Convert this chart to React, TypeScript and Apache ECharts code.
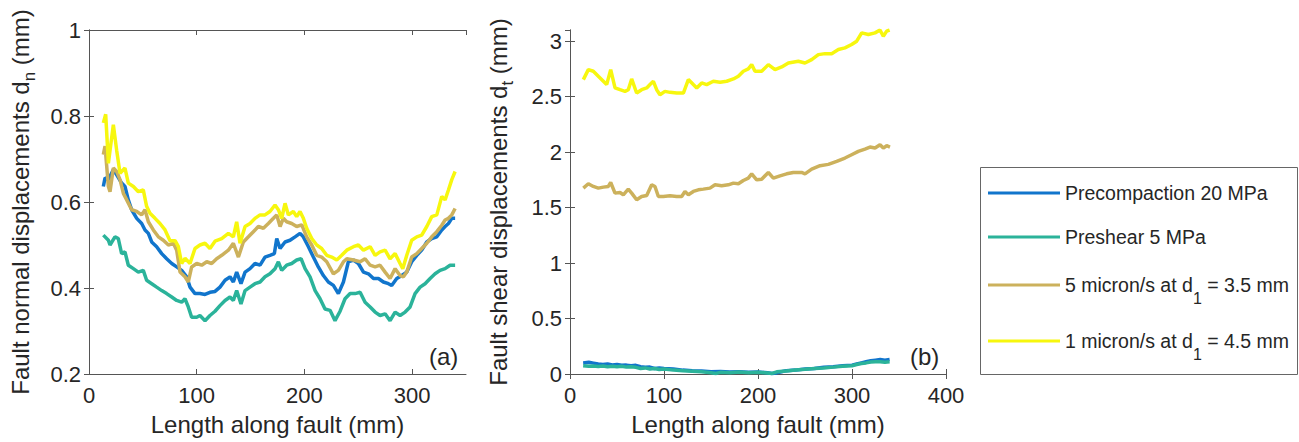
import React, { useEffect, useRef } from 'react';
import * as echarts from 'echarts';

// ---------- DATA ----------
const seriesNames = [
  'Precompaction 20 MPa',
  'Preshear 5 MPa',
  '5 micron/s at d1 = 3.5 mm',
  '1 micron/s at d1 = 4.5 mm',
];
const seriesColors = ['#1175CC', '#2BB39A', '#CCB15C', '#F7F70E'];

const xTicksA = [0, 100, 200, 300];
const yTicksA = [0.2, 0.4, 0.6, 0.8, 1];
const xTicksB = [0, 100, 200, 300, 400];
const yTicksB = [0, 0.5, 1, 1.5, 2, 2.5, 3];

// (a) Fault normal displacements dn (mm)
const dnPrecompaction = [[13.3,0.636],[14.9,0.656],[18,0.652],[22.6,0.675],[25.7,0.663],[30.3,0.644],[33.4,0.636],[36.5,0.605],[39.6,0.582],[44.3,0.562],[48.9,0.55],[52,0.535],[55.1,0.527],[58.2,0.507],[62.8,0.496],[67.5,0.48],[72.1,0.468],[76.8,0.457],[81.4,0.449],[86,0.441],[90.7,0.426],[93.8,0.402],[98.4,0.387],[103,0.387],[107.7,0.385],[112.3,0.39],[117,0.392],[121.6,0.402],[126.3,0.418],[130.9,0.426],[134,0.414],[137.1,0.437],[141.1,0.41],[144.9,0.437],[149.5,0.445],[154.1,0.457],[158.8,0.453],[163.4,0.472],[168,0.476],[172.1,0.48],[174.3,0.515],[177.4,0.492],[182,0.507],[186.6,0.511],[191.3,0.519],[195.9,0.527],[199,0.519],[203.7,0.496],[208.3,0.472],[212.9,0.449],[217.6,0.429],[222.2,0.414],[226.9,0.406],[231.5,0.387],[236.2,0.414],[240.8,0.461],[245.5,0.465],[250.1,0.457],[254.8,0.437],[259.4,0.433],[264.1,0.422],[268.7,0.422],[273.3,0.414],[278,0.41],[281,0.406],[285.7,0.422],[290.4,0.429],[295,0.437],[299.6,0.461],[304.3,0.476],[308.9,0.488],[313.6,0.507],[318.2,0.515],[322.9,0.519],[327.5,0.535],[330.6,0.543],[333.7,0.55],[336.8,0.562],[339.9,0.562]];
const dnPreshear = [[13.3,0.523],[18,0.511],[19.5,0.5],[24.1,0.519],[27.2,0.515],[30.3,0.48],[33.4,0.484],[36.5,0.453],[41.2,0.445],[45.8,0.437],[50.4,0.441],[53.5,0.418],[58.2,0.41],[62.8,0.402],[67.5,0.394],[72.1,0.387],[76.8,0.379],[81.4,0.371],[86,0.367],[89.1,0.375],[92.2,0.356],[95.3,0.332],[100,0.332],[103,0.336],[107.7,0.324],[112.3,0.336],[117,0.346],[121.6,0.359],[126.3,0.371],[130.9,0.379],[134,0.371],[137.1,0.394],[141.1,0.363],[144.9,0.394],[149.5,0.402],[154.1,0.41],[158.8,0.414],[163.4,0.426],[168,0.433],[172.7,0.445],[175.8,0.461],[178.9,0.441],[183.5,0.453],[188.2,0.457],[192.8,0.465],[196.9,0.468],[200.6,0.445],[205.2,0.426],[209.9,0.394],[214.5,0.375],[219.1,0.351],[223.8,0.348],[228.4,0.324],[233.1,0.346],[237.7,0.375],[242.4,0.387],[247,0.387],[251.7,0.39],[256.3,0.367],[261,0.356],[265.6,0.344],[270.2,0.336],[274.9,0.34],[279.5,0.324],[284.2,0.344],[288.8,0.336],[293.5,0.344],[298.1,0.356],[302.7,0.387],[307.4,0.402],[312,0.41],[316.7,0.422],[321.3,0.433],[325.9,0.441],[330.6,0.445],[335.2,0.453],[339.9,0.453]];
const dn5um = [[13.3,0.71],[14.9,0.73],[18,0.636],[19.5,0.624],[22.6,0.679],[25.7,0.671],[28.8,0.652],[31.9,0.62],[35,0.605],[39.6,0.582],[44.3,0.578],[48.9,0.57],[52,0.582],[55.1,0.554],[59.7,0.535],[64.4,0.519],[69,0.511],[73.7,0.5],[78.3,0.504],[81.4,0.488],[84.5,0.437],[89.1,0.426],[92.2,0.414],[95.3,0.449],[100,0.457],[104.6,0.453],[109.3,0.461],[113.9,0.457],[118.5,0.468],[123.2,0.476],[129.4,0.488],[134,0.504],[138.7,0.472],[143.3,0.507],[148,0.519],[152.6,0.531],[157.2,0.543],[161.9,0.539],[166.5,0.55],[171.2,0.562],[174.3,0.57],[177.4,0.543],[180.4,0.562],[183.5,0.554],[188.2,0.55],[192.8,0.543],[197.5,0.547],[202.1,0.519],[206.8,0.5],[211.4,0.476],[216,0.472],[220.7,0.461],[226.9,0.433],[231.5,0.441],[236.2,0.461],[239.3,0.468],[245.5,0.465],[251.7,0.461],[256.3,0.468],[261,0.453],[265.6,0.449],[270.2,0.453],[274.9,0.437],[279.5,0.422],[284.2,0.445],[288.8,0.429],[291.9,0.426],[295,0.437],[299.6,0.472],[304.3,0.48],[308.9,0.492],[313.6,0.504],[318.2,0.519],[322.9,0.531],[327.5,0.546],[330.6,0.558],[333.7,0.562],[336.8,0.57],[339.9,0.585]];
const dn1um = [[13.3,0.784],[15.5,0.804],[18,0.69],[22.6,0.78],[25.7,0.72],[28.8,0.667],[33.4,0.679],[36.5,0.644],[41.2,0.636],[45.8,0.624],[50.4,0.628],[53.5,0.59],[56.6,0.574],[61.3,0.562],[65.9,0.55],[70.6,0.535],[75.2,0.51],[79.9,0.51],[83,0.496],[86,0.457],[89.1,0.469],[93.8,0.457],[98.4,0.492],[103,0.5],[107.7,0.504],[112.3,0.492],[117,0.509],[123.2,0.515],[129.4,0.527],[134,0.519],[137.1,0.554],[140.2,0.504],[144.9,0.543],[149.5,0.55],[154.1,0.562],[158.8,0.57],[163.4,0.57],[168,0.578],[172.7,0.593],[175.8,0.582],[178.9,0.562],[182,0.597],[185.1,0.57],[189.7,0.578],[192.8,0.566],[195.9,0.578],[199,0.562],[202.1,0.539],[206.8,0.515],[211.4,0.5],[216,0.492],[220.7,0.476],[225.3,0.472],[230,0.465],[234.6,0.476],[239.3,0.488],[245.5,0.496],[250.1,0.5],[254.8,0.488],[261,0.496],[265.6,0.476],[270.2,0.484],[274.9,0.488],[279.5,0.468],[284.2,0.48],[288.8,0.457],[291.3,0.445],[295,0.476],[299.6,0.511],[304.3,0.519],[308.9,0.523],[313.6,0.543],[318.2,0.566],[322.9,0.57],[327.5,0.613],[330.6,0.605],[333.7,0.628],[336.8,0.652],[339.9,0.671]];

// (b) Fault shear displacements dt (mm)
const dtPrecompaction = [[14,0.1],[20,0.105],[25,0.098],[30,0.09],[35,0.085],[40,0.09],[45,0.082],[50,0.085],[55,0.078],[60,0.08],[65,0.075],[70,0.078],[75,0.065],[80,0.06],[85,0.062],[90,0.05],[95,0.055],[100,0.05],[110,0.045],[120,0.035],[130,0.03],[140,0.028],[150,0.02],[160,0.022],[170,0.018],[180,0.02],[190,0.015],[200,0.018],[210,0.012],[215,0.005],[220,0.01],[225,0.02],[230,0.03],[240,0.035],[250,0.045],[260,0.05],[270,0.06],[280,0.065],[290,0.075],[300,0.08],[305,0.09],[310,0.1],[315,0.11],[320,0.12],[325,0.125],[330,0.13],[335,0.125],[340,0.13]];
const dtPreshear = [[14,0.075],[20,0.07],[25,0.072],[30,0.068],[35,0.072],[40,0.065],[45,0.07],[50,0.065],[55,0.07],[60,0.062],[65,0.065],[70,0.06],[75,0.05],[80,0.055],[85,0.045],[90,0.05],[95,0.04],[100,0.045],[110,0.035],[120,0.03],[130,0.025],[140,0.02],[150,0.012],[155,0.005],[160,0.015],[170,0.012],[180,0.018],[190,0.012],[200,0.015],[210,0.01],[215,0.005],[220,0.02],[230,0.028],[240,0.035],[250,0.042],[260,0.05],[270,0.055],[280,0.062],[290,0.07],[300,0.075],[305,0.085],[310,0.095],[315,0.1],[320,0.108],[325,0.11],[330,0.11],[335,0.105],[340,0.11]];
const dt5um = [[14.2,1.675],[19.5,1.714],[24.8,1.69],[30.1,1.675],[35.5,1.684],[40.8,1.69],[43.3,1.726],[47.9,1.63],[53.2,1.636],[56.7,1.615],[62,1.666],[65.6,1.63],[70.9,1.57],[76.2,1.6],[81.6,1.609],[86.9,1.705],[90.4,1.69],[94,1.6],[99.3,1.6],[106.4,1.606],[113.5,1.6],[118.8,1.6],[122.3,1.645],[125.9,1.615],[131.2,1.645],[136.5,1.66],[141.8,1.666],[148.9,1.675],[154.3,1.705],[161.3,1.696],[168.4,1.705],[173.8,1.72],[179.1,1.714],[184.4,1.744],[189.7,1.765],[193.3,1.804],[198.6,1.75],[203.9,1.756],[211,1.816],[216.3,1.765],[223.4,1.786],[230.5,1.804],[237.6,1.816],[246.4,1.816],[250,1.804],[257.1,1.846],[266,1.877],[274.8,1.889],[283.7,1.916],[292.5,1.946],[299.6,1.976],[306.7,2.006],[313.8,2.027],[319.1,2.045],[324.5,2.036],[329.8,2.066],[333.3,2.036],[336.9,2.057],[340.4,2.045]];
const dt1um = [[14.2,2.653],[19.5,2.743],[24.8,2.728],[30.1,2.683],[35.5,2.638],[39,2.608],[43.3,2.743],[47.9,2.578],[53.2,2.562],[58.5,2.547],[62,2.562],[65.6,2.659],[70.9,2.532],[76.2,2.562],[81.6,2.578],[85.1,2.608],[88.7,2.638],[92.2,2.562],[95.7,2.517],[101,2.547],[106.4,2.538],[113.5,2.532],[120.6,2.532],[125.9,2.653],[131.2,2.608],[134.8,2.578],[140.1,2.623],[145.4,2.608],[152.5,2.638],[159.6,2.629],[166.7,2.638],[173.8,2.659],[179.1,2.683],[184.4,2.728],[189.7,2.749],[193.3,2.788],[196.8,2.728],[203.9,2.728],[211,2.788],[218.1,2.743],[225.2,2.767],[232.3,2.803],[242.9,2.818],[250,2.803],[257.1,2.833],[264.2,2.878],[271.3,2.887],[278.4,2.887],[285.5,2.924],[292.5,2.939],[299.6,2.969],[305,2.999],[310.3,3.074],[317.4,3.059],[324.5,3.074],[329.8,3.1],[333.3,3.044],[336.9,3.09],[340,3.1]];

const dnSeries = [dnPrecompaction, dnPreshear, dn5um, dn1um];
const dtSeries = [dtPrecompaction, dtPreshear, dt5um, dt1um];

// ---------- STYLE ----------
const FONT = '"Liberation Sans", Arial, Helvetica, sans-serif';
const TXT = '#262626';
const AX = '#555555';

const legendLabels: Record<string, string> = {
  'Precompaction 20 MPa': 'Precompaction 20 MPa',
  'Preshear 5 MPa': 'Preshear 5 MPa',
  '5 micron/s at d1 = 3.5 mm': '{m|5 micron/s at d}{s|1}{m| = 3.5 mm}',
  '1 micron/s at d1 = 4.5 mm': '{m|1 micron/s at d}{s|1}{m| = 4.5 mm}',
};
const legendTops = [181, 225, 264, 320];

function bottomX(grid: number, min: number, max: number, interval: number, name: string) {
  return {
    type: 'value', gridIndex: grid, position: 'bottom', min, max, interval,
    name, nameLocation: 'middle', nameGap: 38,
    nameTextStyle: { fontSize: 24, color: TXT, fontFamily: FONT },
    axisLine: { show: true, lineStyle: { color: AX, width: 1 } },
    axisTick: { show: true, inside: true, length: 5, lineStyle: { color: AX } },
    axisLabel: { show: true, fontSize: 22, color: TXT, fontFamily: FONT, margin: 10, showMaxLabel: max % interval === 0 },
    splitLine: { show: false },
  };
}
function topX(grid: number, min: number, max: number, interval: number) {
  return {
    type: 'value', gridIndex: grid, position: 'top', min, max, interval,
    axisLine: { show: true, lineStyle: { color: AX, width: 1 } },
    axisTick: { show: true, inside: true, length: 5, lineStyle: { color: AX } },
    axisLabel: { show: false }, splitLine: { show: false },
  };
}
function leftY(grid: number, min: number, max: number, interval: number, name: string, sub: string, gap: number) {
  return {
    type: 'value', gridIndex: grid, position: 'left', min, max, interval,
    name: name + '{s|' + sub + '}{m| (mm)}', nameLocation: 'middle', nameGap: gap,
    nameTextStyle: {
      fontSize: 24, color: TXT, fontFamily: FONT,
      rich: {
        m: { fontSize: 24, color: TXT, fontFamily: FONT },
        s: { fontSize: 17, color: TXT, fontFamily: FONT, padding: [18, 0, 0, 0] },
      },
    },
    axisLine: { show: true, lineStyle: { color: AX, width: 1 } },
    axisTick: { show: true, inside: true, length: 5, lineStyle: { color: AX } },
    axisLabel: { show: true, fontSize: 22, color: TXT, fontFamily: FONT, margin: 8, showMaxLabel: Math.abs(max / interval - Math.round(max / interval)) < 1e-9 },
    splitLine: { show: false },
  };
}
function rightY(grid: number, min: number, max: number, interval: number) {
  return {
    type: 'value', gridIndex: grid, position: 'right', min, max, interval,
    axisLine: { show: true, lineStyle: { color: AX, width: 1 } },
    axisTick: { show: true, inside: true, length: 5, lineStyle: { color: AX } },
    axisLabel: { show: false }, splitLine: { show: false },
  };
}

export default function App() {
  const ref = useRef<HTMLDivElement>(null);
  useEffect(() => {
    document.body.style.margin = '0';
    const chart = echarts.init(ref.current!, undefined, { renderer: 'svg' });

    const series: any[] = [];
    seriesNames.forEach((n, i) => {
      series.push({
        type: 'line', name: n, data: dnSeries[i], xAxisIndex: 0, yAxisIndex: 0,
        showSymbol: false, symbol: 'none', lineStyle: { color: seriesColors[i], width: 3.5 },
        itemStyle: { color: seriesColors[i] }, clip: true,
      });
    });
    seriesNames.forEach((n, i) => {
      series.push({
        type: 'line', name: n, data: dtSeries[i], xAxisIndex: 2, yAxisIndex: 2,
        showSymbol: false, symbol: 'none', lineStyle: { color: seriesColors[i], width: 3.5 },
        itemStyle: { color: seriesColors[i] }, clip: true,
      });
    });

    const legends = seriesNames.map((n, i) => ({
      data: [n], orient: 'vertical', left: 988, top: legendTops[i], padding: 0,
      itemWidth: 72, itemHeight: 3, icon: 'rect',
      formatter: (name: string) => legendLabels[name],
      textStyle: {
        fontSize: 19.5, color: TXT, fontFamily: FONT, lineHeight: 24,
        rich: {
          m: { fontSize: 19.5, color: TXT, fontFamily: FONT, lineHeight: 24 },
          s: { fontSize: 16, color: TXT, fontFamily: FONT, lineHeight: 16, padding: [26, 0, 0, 0] },
        },
      },
    }));

    chart.setOption({
      animation: false,
      backgroundColor: '#ffffff',
      grid: [
        { left: 89, top: 30, width: 377, height: 344 },
        { left: 570, top: 30, width: 376, height: 344 },
      ],
      xAxis: [
        bottomX(0, 0, 350, 100, 'Length along fault (mm)'),
        topX(0, 0, 350, 100),
        bottomX(1, 0, 400, 100, 'Length along fault (mm)'),
        topX(1, 0, 400, 100),
      ],
      yAxis: [
        leftY(0, 0.2, 1, 0.2, 'Fault normal displacements d', 'n', 51),
        rightY(0, 0.2, 1, 0.2),
        leftY(1, 0, 3.1, 0.5, 'Fault shear displacements d', 't', 54),
        rightY(1, 0, 3.1, 0.5),
      ],
      legend: legends,
      graphic: [
        { type: 'rect', shape: { x: 980.5, y: 167.5, width: 317, height: 207 }, style: { fill: 'none', stroke: '#666', lineWidth: 1 }, z: -1 },
        { type: 'text', left: 429, top: 344, style: { text: '(a)', fontSize: 24, fill: TXT, fontFamily: FONT } },
        { type: 'text', left: 910, top: 344, style: { text: '(b)', fontSize: 24, fill: TXT, fontFamily: FONT } },
      ],
      series,
    });
    return () => chart.dispose();
  }, []);
  return <div ref={ref} style={{ width: 1299, height: 442 }} />;
}
